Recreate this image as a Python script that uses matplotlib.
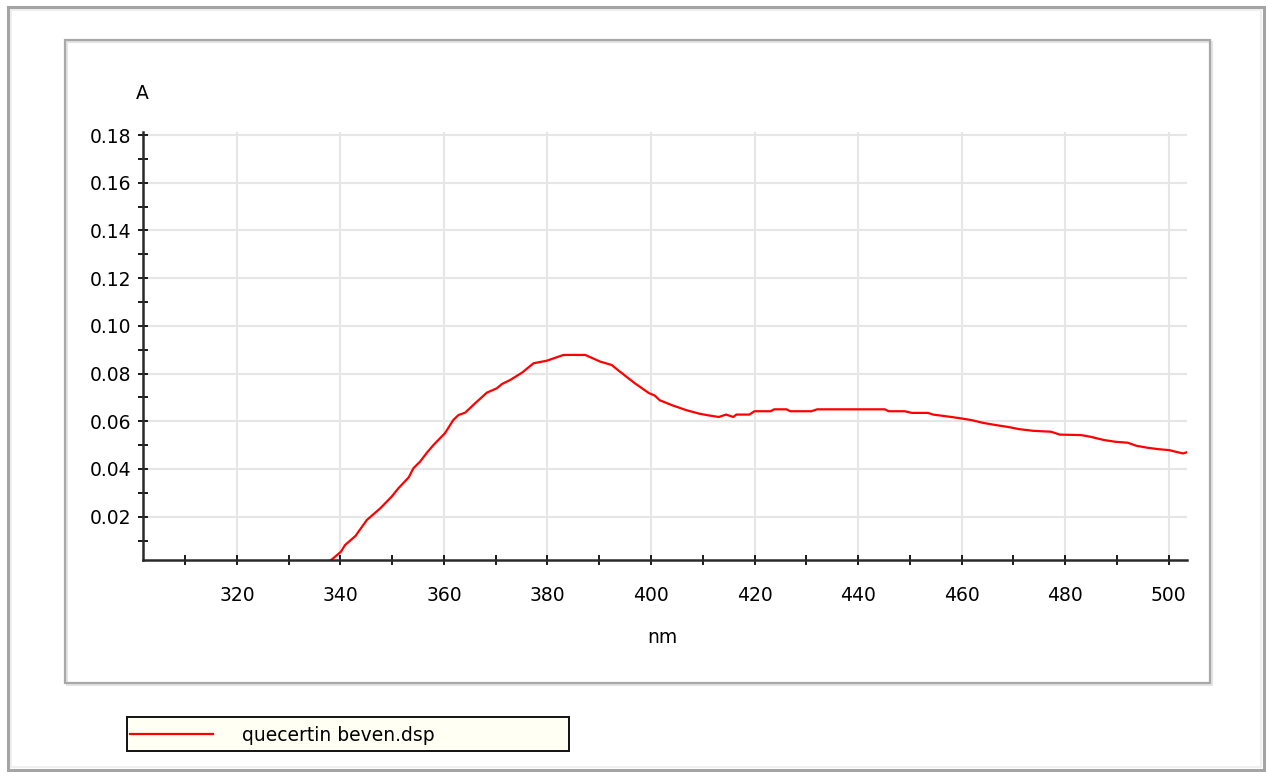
import matplotlib.pyplot as plt
from matplotlib.patches import Rectangle
from matplotlib.ticker import MultipleLocator, FormatStrFormatter

# Absorbance spectrum of quercetin (nm vs A)
wavelength = [338.2, 340.1, 340.9, 342.9, 345.1, 347.7, 349.9, 351.2, 353.2, 354.1,
              355.4, 356.7, 358.0, 360.2, 361.8, 362.8, 364.1, 366.0, 368.3, 370.2,
              371.2, 372.8, 375.1, 377.3, 379.9, 383.1, 387.3, 390.2, 392.4, 394.0,
              396.9, 399.6, 400.7, 401.7, 404.1, 406.9, 409.3, 411.0, 413.1, 414.5,
              415.9, 416.5, 419.0, 420.0, 423.1, 423.8, 426.2, 426.9, 431.0, 432.1,
              445.2, 445.9, 449.0, 450.4, 453.5, 454.5, 458.0, 460.2, 462.1, 464.2,
              466.9, 469.0, 471.1, 473.8, 477.3, 479.0, 483.1, 484.9, 486.2, 487.6,
              489.7, 492.1, 493.8, 495.9, 498.0, 500.1, 501.4, 502.8, 503.8]
absorbance = [0.0018, 0.0053, 0.0081, 0.0119, 0.0186, 0.0235, 0.0284, 0.0319, 0.0365, 0.0403,
              0.0431, 0.0468, 0.0501, 0.0550, 0.0605, 0.0626, 0.0636, 0.0675, 0.0720, 0.0738,
              0.0756, 0.0773, 0.0804, 0.0843, 0.0854, 0.0878, 0.0878, 0.0850, 0.0836, 0.0808,
              0.0759, 0.0718, 0.0708, 0.0688, 0.0667, 0.0646, 0.0632, 0.0625, 0.0618, 0.0628,
              0.0618, 0.0628, 0.0628, 0.0642, 0.0642, 0.0650, 0.0650, 0.0642, 0.0642, 0.0650,
              0.0650, 0.0642, 0.0642, 0.0635, 0.0635, 0.0628, 0.0618, 0.0611, 0.0604, 0.0593,
              0.0583, 0.0576, 0.0567, 0.0560, 0.0556, 0.0544, 0.0542, 0.0535, 0.0528, 0.0521,
              0.0514, 0.0510, 0.0497, 0.0489, 0.0483, 0.0479, 0.0472, 0.0465, 0.0472]
series_name = 'quecertin beven.dsp'

W, H = 1268, 772
fig = plt.figure(figsize=(W / 100, H / 100), dpi=100)
fig.patch.set_facecolor('white')


def px_rect(x0, y0, x1, y1, **kw):
    # rectangle given in pixel coordinates measured from the top-left corner
    return Rectangle((x0 / W, 1 - y1 / H), (x1 - x0) / W, (y1 - y0) / H,
                     transform=fig.transFigure, **kw)


# window frames
fig.add_artist(px_rect(8, 7, 1264, 770, fill=False, edgecolor='#a4a4a4', lw=2.2))
fig.add_artist(px_rect(11, 10, 1261, 767, fill=False, edgecolor='#ececec', lw=1.2))
fig.add_artist(px_rect(67, 42, 1212, 685, fill=False, edgecolor='#e4e4e4', lw=1.5))
fig.add_artist(px_rect(65, 40, 1210, 683, fill=False, edgecolor='#a8a8a8', lw=1.6))

ax = fig.add_axes([142.7 / W, 1 - 560.3 / H, 1044 / W, 428.6 / H])
line, = ax.plot(wavelength, absorbance, color='#ff0000', lw=1.6)

ax.set_xlim(301.8, 503.5)
ax.set_ylim(0.0017, 0.1814)
ax.xaxis.set_major_locator(MultipleLocator(20))
ax.xaxis.set_minor_locator(MultipleLocator(10))
ax.yaxis.set_major_locator(MultipleLocator(0.02))
ax.yaxis.set_minor_locator(MultipleLocator(0.01))
ax.yaxis.set_major_formatter(FormatStrFormatter('%.2f'))

ax.grid(True, which='major', color='#e6e6e6', lw=1.5)
ax.set_axisbelow(True)

for side in ('top', 'right'):
    ax.spines[side].set_visible(False)
for side in ('left', 'bottom'):
    ax.spines[side].set_color('#2a2a2a')
    ax.spines[side].set_linewidth(1.8)

ax.tick_params(which='both', direction='inout', length=6.5, width=1.4, color='#1a1a1a')
ax.tick_params(axis='y', which='major', pad=4.7, labelsize=13.5)
ax.tick_params(axis='x', which='major', pad=15.5, labelsize=13.5)

ax.set_ylabel('A', rotation=0, fontsize=13.5, ha='center', va='center')
ax.yaxis.set_label_coords(0.0, 1.09)
ax.set_xlabel('nm', fontsize=13.5, va='center')
ax.xaxis.set_label_coords(0.4974, -0.181)

# legend panel below the chart
fig.add_artist(px_rect(127, 717, 569, 751, facecolor='#fffff4', edgecolor='#111111',
                       lw=1.4, zorder=2))
leg = fig.legend([line], [series_name], loc='center left',
                 bbox_to_anchor=(130 / W, 1 - 735.5 / H), frameon=False, fontsize=13.5,
                 borderpad=0, borderaxespad=0, handlelength=4.4, handletextpad=1.6)
leg.set_zorder(6)

fig.savefig('out.png', dpi=100)
